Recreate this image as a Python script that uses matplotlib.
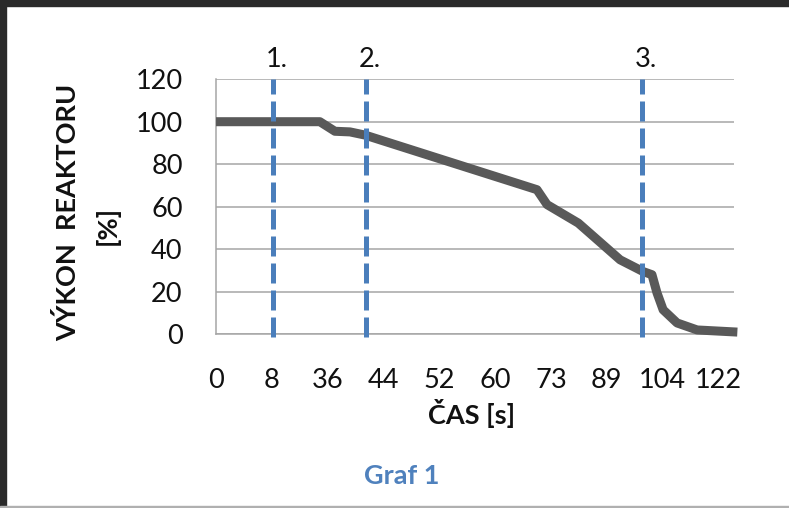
"""
Graf 1 - vykon reaktoru v case
"""

import matplotlib
matplotlib.use('Agg')
import matplotlib.pyplot as plt
from matplotlib.patches import Rectangle

plt.rcParams['font.family'] = ['Lato', 'DejaVu Sans']

# category positions (one unit = one labelled category) and values
pos = [0, 1.86, 2.13, 2.40, 2.67, 5.75, 5.93, 6.49, 7.24, 7.65, 7.81, 7.90, 8.01, 8.26, 8.62, 9.34]
power = [100, 100, 95.5, 95.2, 93.7, 68, 61, 52.3, 35, 29.5, 28, 19.5, 11.5, 5.3, 2, 1]

tick_pos = [0, 1, 2, 3, 4, 5, 6, 7, 8, 9]
tick_labels = ['0', '8', '36', '44', '52', '60', '73', '89', '104', '122']

# marked events
event_pos = [1.02, 2.69, 7.63]
event_labels = ['1.', '2.', '3.']

fig = plt.figure(figsize=(7.89, 5.08), dpi=100)
ax = fig.add_axes([0.2738, 0.3421, 0.6565, 0.5020])

# screenshot frame
fig.patches.append(Rectangle((0, 0.989), 1, 0.011, transform=fig.transFigure, color='#2a2a2a', zorder=0))
fig.patches.append(Rectangle((0, 0), 0.007, 1, transform=fig.transFigure, color='#2a2a2a', zorder=0))
fig.patches.append(Rectangle((0, 0), 1, 0.003, transform=fig.transFigure, color='#b0b0b0', zorder=0))

ax.plot(pos, power, color='#595959', lw=6.5, solid_joinstyle='round',
        solid_capstyle='butt', clip_on=False, zorder=3)

for x, lab in zip(event_pos, event_labels):
    ax.plot([x, x], [-1.5, 120], color='#4a7ebb', lw=3.6, dashes=(4, 1.4),
            dash_capstyle='butt', clip_on=False, zorder=4)
    ax.text(x + 0.07, 129.5, lab, ha='center', va='center', fontsize=19.5, color='#111111')

ax.set_xlim(0, 9.28)
ax.set_ylim(0, 120)
ax.set_yticks(range(0, 121, 20))
ax.set_xticks(tick_pos)
ax.set_xticklabels(tick_labels)
ax.tick_params(length=0, labelsize=19.5, labelcolor='#111111')
ax.tick_params(axis='y', pad=24)
ax.tick_params(axis='x', pad=24)

ax.yaxis.grid(True, color='#a6a6a6', lw=1.1)
ax.set_axisbelow(True)
for s in ['top', 'right']:
    ax.spines[s].set_visible(False)
for s in ['left', 'bottom']:
    ax.spines[s].set_color('#a6a6a6')
    ax.spines[s].set_linewidth(1.1)

fig.text(472 / 789, 1 - 414 / 508, 'ČAS [s]', ha='center', va='center',
         fontsize=19.5, fontweight='bold', color='#111111')
fig.text(68 / 789, 1 - 212 / 508, 'VÝKON  REAKTORU', rotation=90, ha='center', va='center',
         fontsize=19.5, fontweight='bold', color='#111111')
fig.text(107 / 789, 1 - 225 / 508, '[%]', rotation=90, ha='center', va='center',
         fontsize=19.5, fontweight='bold', color='#111111')
fig.text(402 / 789, 1 - 476 / 508, 'Graf 1', ha='center', va='center',
         fontsize=19.5, fontweight='bold', color='#4f81bd')

fig.savefig('out.png', dpi=100)
